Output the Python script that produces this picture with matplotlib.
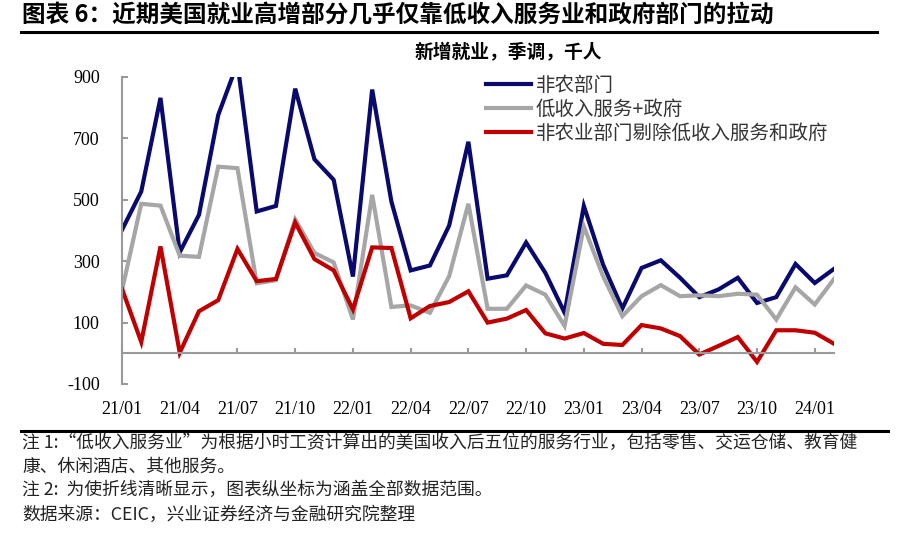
import matplotlib
matplotlib.use('Agg')
import matplotlib.pyplot as plt
import numpy as np

plt.rcParams['font.family'] = ['Noto Sans CJK SC', 'DejaVu Sans']
plt.rcParams['axes.unicode_minus'] = False

# monthly data, 21/01 .. 24/02 (thousand persons, SA)
nonfarm = [402, 527, 832, 329, 451, 776, 945, 462, 480, 862, 632, 565,
           250, 859, 494, 270, 286, 416, 689, 243, 254, 361, 262, 132,
           480, 289, 146, 278, 303, 246, 183, 208, 246, 164, 183, 291,
           229, 275]
low_inc_gov = [205, 487, 481, 318, 314, 608, 603, 228, 238, 436, 327, 296,
               110, 516, 151, 156, 132, 251, 487, 145, 145, 221, 191, 89,
               413, 251, 121, 186, 222, 186, 189, 186, 194, 191, 110, 215,
               159, 242]
nonfarm_ex = [210, 37, 348, 2, 137, 173, 340, 235, 242, 426, 307, 270,
              143, 345, 343, 114, 154, 167, 202, 100, 113, 141, 65, 48,
              66, 31, 27, 92, 81, 56, -4, 24, 53, -28, 75, 75,
              67, 31]
tick_labels = ['21/01', '21/04', '21/07', '21/10', '22/01', '22/04', '22/07',
               '22/10', '23/01', '23/04', '23/07', '23/10', '24/01']
series_names = ['非农部门', '低收入服务+政府', '非农业部门剔除低收入服务和政府']
colors = ['#0a0a6e', '#a6a6a6', '#c00000']

W, H = 906, 535
fig = plt.figure(figsize=(W / 100, H / 100), dpi=100)
ax = fig.add_axes([122 / W, 1 - 384 / H, (834 - 122) / W, (384 - 77) / H])

x = np.arange(len(nonfarm))
for vals, name, c in zip([nonfarm, low_inc_gov, nonfarm_ex], series_names, colors):
    ax.plot(x, vals, color=c, lw=3, label=name, solid_joinstyle='miter')

ax.set_xlim(0, len(nonfarm) - 1)
ax.set_ylim(-100, 900)
ax.set_yticks(np.arange(-100, 901, 200))
ax.set_xticks(np.arange(0, len(nonfarm), 3))
ax.set_xticklabels(tick_labels)

for s in ['top', 'right']:
    ax.spines[s].set_visible(False)
ax.spines['left'].set_color('#9a9a9a')
ax.spines['bottom'].set_color('#9a9a9a')
ax.spines['bottom'].set_position(('data', 0))
ax.spines['left'].set_linewidth(1.5)
ax.spines['bottom'].set_linewidth(1.5)
ax.tick_params(axis='y', direction='in', length=4.5, width=1.5, color='#9a9a9a', pad=16)
ax.tick_params(axis='x', direction='in', length=3.8, width=1.5, color='#9a9a9a', pad=34)
for lab in ax.get_xticklabels() + ax.get_yticklabels():
    lab.set_family('Liberation Serif')
    lab.set_fontsize(13)

leg = ax.legend(loc='upper left', bbox_to_anchor=(486 / W, 1 - 75 / H),
                bbox_transform=fig.transFigure, frameon=False, fontsize=14,
                handlelength=2.3, handletextpad=0.25, labelspacing=0.15,
                borderpad=0, borderaxespad=0)
for t in leg.get_texts():
    t.set_color('#333333')

fig.text(22 / W, 1 - 15 / H, '图表 6：近期美国就业高增部分几乎仅靠低收入服务业和政府部门的拉动',
         fontsize=17, fontweight='bold', ha='left', va='center')
fig.add_artist(plt.Line2D([21 / W, 877 / W], [1 - 32 / H, 1 - 32 / H], color='black', lw=2.2))
fig.text(508 / W, 1 - 53 / H, '新增就业，季调，千人', fontsize=13.5, fontweight='bold',
         ha='center', va='center')

fig.add_artist(plt.Line2D([21 / W, 888 / W], [1 - 431 / H, 1 - 431 / H], color='black', lw=2.2))
notes = ['注 1:“低收入服务业”为根据小时工资计算出的美国收入后五位的服务行业，包括零售、交运仓储、教育健',
         '康、休闲酒店、其他服务。',
         '注 2:  为使折线清晰显示，图表纵坐标为涵盖全部数据范围。',
         '数据来源：CEIC，兴业证券经济与金融研究院整理']
for ypix, txt in zip([443, 467, 490, 515], notes):
    fig.text(22 / W, 1 - ypix / H, txt, fontsize=12.8, ha='left', va='center', color='#222222')

fig.savefig('out.png', dpi=100)
